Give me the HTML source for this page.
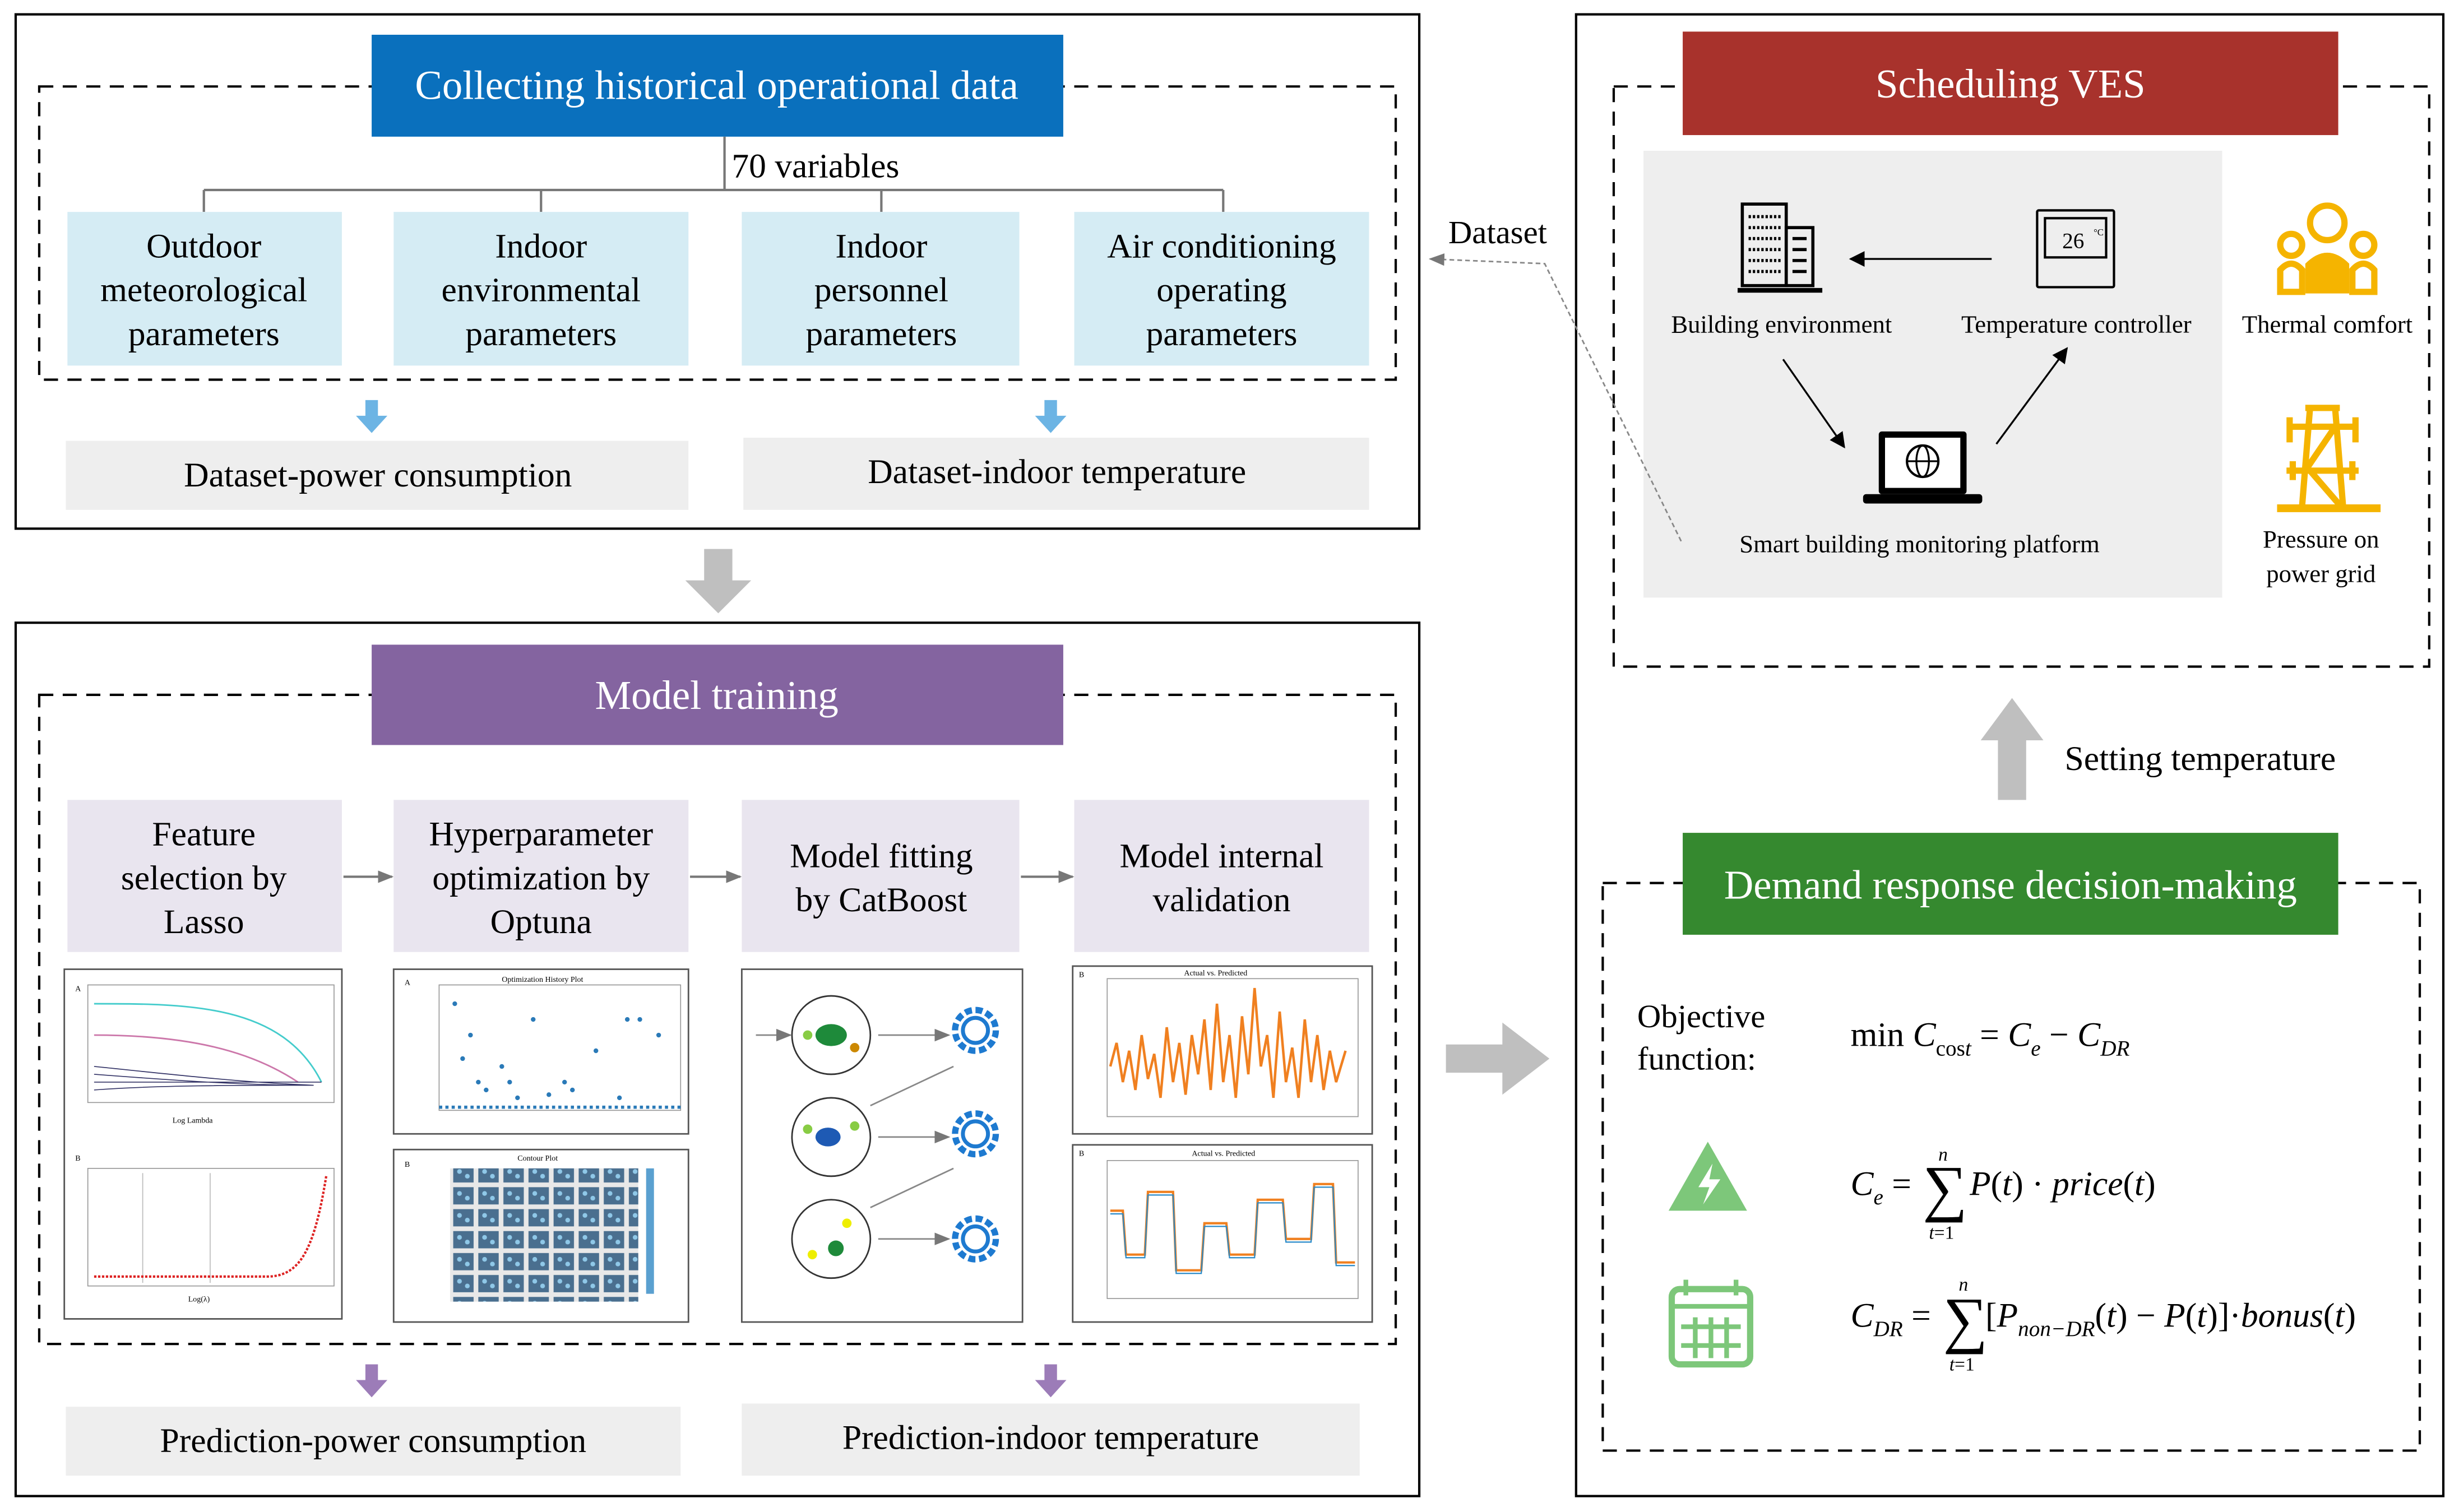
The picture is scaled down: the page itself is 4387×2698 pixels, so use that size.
<!DOCTYPE html>
<html><head><meta charset="utf-8"><style>
html,body{margin:0;padding:0;background:#fff}
svg{display:block}
text{font-family:"Liberation Serif",serif;fill:#000}
</style></head><body>
<svg width="4387" height="2698" viewBox="0 0 1568 964" xmlns="http://www.w3.org/2000/svg">
<defs>
<marker id="ah" markerWidth="10" markerHeight="10" refX="9" refY="5" orient="auto" markerUnits="userSpaceOnUse"><path d="M0,0 L10,5 L0,10 z" fill="#000"/></marker>
<marker id="ag" markerWidth="10" markerHeight="10" refX="9" refY="5" orient="auto" markerUnits="userSpaceOnUse"><path d="M0,1 L10,5 L0,9 z" fill="#777"/></marker>
<pattern id="cp" width="16" height="14" patternUnits="userSpaceOnUse"><rect width="16" height="14" fill="#e8e8e8"/><rect x="1" y="1" width="13" height="11" fill="#4a6f8f"/><circle cx="5" cy="5" r="1.5" fill="#8fc8e8"/><circle cx="10" cy="8" r="1.5" fill="#8fc8e8"/></pattern>
</defs>
<rect width="1568" height="964" fill="#fff"/>

<rect x="10" y="9" width="895" height="328" fill="none" stroke="#000" stroke-width="1.5"/>
<rect x="25" y="55" width="865" height="187" fill="none" stroke="#000" stroke-width="1.5" stroke-dasharray="9,6"/>
<rect x="237" y="22" width="441" height="65" fill="#0a70bd"/>
<text x="457" y="63" font-size="26" text-anchor="middle" style="fill:#fff">Collecting historical operational data</text>
<rect x="455" y="89" width="130" height="28" fill="#fff"/>
<text x="520" y="113" font-size="22" text-anchor="middle">70 variables</text>
<g stroke="#777" stroke-width="1.5" fill="none">
<path d="M462 87 V121 M130 121 H780 M130 121 V135 M345 121 V135 M562 121 V135 M780 121 V135"/>
</g>
<g fill="#d5ecf4">
<rect x="43" y="135" width="175" height="98"/><rect x="251" y="135" width="188" height="98"/>
<rect x="473" y="135" width="177" height="98"/><rect x="685" y="135" width="188" height="98"/>
</g>
<g font-size="22" text-anchor="middle">
<text x="130" y="164">Outdoor</text><text x="130" y="192">meteorological</text><text x="130" y="220">parameters</text>
<text x="345" y="164">Indoor</text><text x="345" y="192">environmental</text><text x="345" y="220">parameters</text>
<text x="562" y="164">Indoor</text><text x="562" y="192">personnel</text><text x="562" y="220">parameters</text>
<text x="779" y="164">Air conditioning</text><text x="779" y="192">operating</text><text x="779" y="220">parameters</text>
</g>
<g fill="#6cb4e4">
<path d="M233 255 h8 v10 h6 l-10 11 l-10 -11 h6z"/>
<path d="M666 255 h8 v10 h6 l-10 11 l-10 -11 h6z"/>
</g>
<rect x="42" y="281" width="397" height="44" fill="#eeeeee"/>
<rect x="474" y="279" width="399" height="46" fill="#eeeeee"/>
<text x="241" y="310" font-size="22" text-anchor="middle">Dataset-power consumption</text>
<text x="674" y="308" font-size="22" text-anchor="middle">Dataset-indoor temperature</text>

<path d="M449 350 h18 v20 h12 l-21 21 l-21 -21 h12z" fill="#bfbfbf"/>

<rect x="10" y="397" width="895" height="557" fill="none" stroke="#000" stroke-width="1.5"/>
<rect x="25" y="443" width="865" height="414" fill="none" stroke="#000" stroke-width="1.5" stroke-dasharray="9,6"/>
<rect x="237" y="411" width="441" height="64" fill="#8464a0"/>
<text x="457" y="452" font-size="26" text-anchor="middle" style="fill:#fff">Model training</text>
<g fill="#e9e5ef">
<rect x="43" y="510" width="175" height="97"/><rect x="251" y="510" width="188" height="97"/>
<rect x="473" y="510" width="177" height="97"/><rect x="685" y="510" width="188" height="97"/>
</g>
<g font-size="22" text-anchor="middle">
<text x="130" y="539">Feature</text><text x="130" y="567">selection by</text><text x="130" y="595">Lasso</text>
<text x="345" y="539">Hyperparameter</text><text x="345" y="567">optimization by</text><text x="345" y="595">Optuna</text>
<text x="562" y="553">Model fitting</text><text x="562" y="581">by CatBoost</text>
<text x="779" y="553">Model internal</text><text x="779" y="581">validation</text>
</g>
<g stroke="#777" stroke-width="1.5">
<line x1="219" y1="559" x2="250" y2="559" marker-end="url(#ag)"/>
<line x1="440" y1="559" x2="472" y2="559" marker-end="url(#ag)"/>
<line x1="651" y1="559" x2="684" y2="559" marker-end="url(#ag)"/>
</g>
<g fill="#fff" stroke="#555" stroke-width="1">
<rect x="41" y="618" width="177" height="223"/>
<rect x="251" y="618" width="188" height="105"/>
<rect x="251" y="733" width="188" height="110"/>
<rect x="473" y="618" width="179" height="225"/>
<rect x="684" y="616" width="191" height="107"/>
<rect x="684" y="730" width="191" height="113"/>
</g>
<g stroke="#999" stroke-width="0.6" fill="none">
<rect x="56" y="628" width="157" height="75"/><rect x="56" y="745" width="157" height="75"/>
<rect x="280" y="628" width="154" height="80"/>
<rect x="706" y="624" width="160" height="88"/><rect x="706" y="740" width="160" height="88"/>
</g>
<g font-size="5" font-family="Liberation Sans"><text x="48" y="632">A</text><text x="48" y="740">B</text><text x="110" y="716">Log Lambda</text><text x="120" y="830">Log(λ)</text><text x="258" y="628">A</text><text x="320" y="626">Optimization History Plot</text><text x="258" y="744">B</text><text x="330" y="740">Contour Plot</text><text x="688" y="623">B</text><text x="755" y="622">Actual vs. Predicted</text><text x="688" y="737">B</text><text x="760" y="737">Actual vs. Predicted</text></g>
<path d="M60 640 C120 640 180 640 205 690" stroke="#4cc" fill="none"/>
<path d="M60 660 C120 660 160 670 190 690" stroke="#c7a" fill="none"/>
<g stroke="#336" stroke-width="0.6" fill="none"><path d="M60 690 H205 M60 685 C100 688 150 692 200 692 M60 695 C100 692 150 692 200 692 M60 680 C100 684 150 690 200 692"/></g>
<line x1="91" y1="748" x2="91" y2="818" stroke="#bbb" stroke-width="0.6"/><line x1="134" y1="748" x2="134" y2="818" stroke="#bbb" stroke-width="0.6"/>
<path d="M60 814 H170 C190 814 200 800 208 750" stroke="#d22" stroke-width="1.5" fill="none" stroke-dasharray="1.5,1"/>
<g fill="#2a7ab8">
<circle cx="290" cy="640" r="1.5"/><circle cx="300" cy="660" r="1.5"/><circle cx="320" cy="680" r="1.5"/><circle cx="340" cy="650" r="1.5"/><circle cx="360" cy="690" r="1.5"/><circle cx="380" cy="670" r="1.5"/><circle cx="400" cy="650" r="1.5"/><circle cx="420" cy="660" r="1.5"/><circle cx="310" cy="695" r="1.5"/><circle cx="330" cy="700" r="1.5"/><circle cx="295" cy="675" r="1.5"/><circle cx="305" cy="690" r="1.5"/><circle cx="350" cy="698" r="1.5"/><circle cx="395" cy="700" r="1.5"/><circle cx="408" cy="650" r="1.5"/><circle cx="325" cy="690" r="1.5"/><circle cx="365" cy="695" r="1.5"/>
</g>
<line x1="280" y1="706" x2="434" y2="706" stroke="#2a7ab8" stroke-width="2" stroke-dasharray="2,2"/>
<rect x="287" y="745" width="120" height="85" fill="url(#cp)"/>
<rect x="412" y="745" width="5" height="80" fill="#5aa0d0"/>
<g fill="#fff" stroke="#333">
<circle cx="530" cy="660" r="25"/><circle cx="530" cy="725" r="25"/><circle cx="530" cy="790" r="25"/>
</g>
<ellipse cx="530" cy="660" rx="10" ry="7" fill="#1e8a3a"/><circle cx="515" cy="660" r="3" fill="#8c4"/><circle cx="545" cy="668" r="3" fill="#c80"/>
<ellipse cx="528" cy="725" rx="8" ry="6" fill="#1e5ab4"/><circle cx="515" cy="720" r="3" fill="#8c4"/><circle cx="545" cy="718" r="3" fill="#8c4"/>
<circle cx="533" cy="796" r="5" fill="#1e8a3a"/><circle cx="518" cy="800" r="3" fill="#ee0"/><circle cx="540" cy="780" r="3" fill="#ee0"/>
<g fill="none" stroke="#1e7ad0">
<circle cx="622" cy="657" r="13" stroke-width="4" stroke-dasharray="4.5,2.3"/><circle cx="622" cy="657" r="8" stroke-width="2.5"/>
<circle cx="622" cy="723" r="13" stroke-width="4" stroke-dasharray="4.5,2.3"/><circle cx="622" cy="723" r="8" stroke-width="2.5"/>
<circle cx="622" cy="790" r="13" stroke-width="4" stroke-dasharray="4.5,2.3"/><circle cx="622" cy="790" r="8" stroke-width="2.5"/>
</g>
<g stroke="#888" stroke-width="1"><line x1="482" y1="660" x2="504" y2="660" marker-end="url(#ag)"/><line x1="560" y1="660" x2="605" y2="660" marker-end="url(#ag)"/><line x1="560" y1="725" x2="605" y2="725" marker-end="url(#ag)"/><line x1="560" y1="790" x2="605" y2="790" marker-end="url(#ag)"/><line x1="608" y1="680" x2="555" y2="705"/><line x1="608" y1="745" x2="555" y2="770"/></g>
<path d="M708 680 L712 665 L716 690 L720 670 L724 695 L728 660 L732 688 L736 672 L740 700 L744 655 L748 690 L752 665 L756 698 L760 660 L764 685 L768 650 L772 695 L776 640 L780 690 L784 660 L788 700 L792 648 L796 685 L800 630 L804 680 L808 660 L812 700 L816 645 L820 690 L824 668 L828 700 L832 650 L836 690 L840 660 L844 695 L848 670 L852 690 L858 670" stroke="#f08020" stroke-width="1.6" fill="none"/>
<path d="M708 772 L716 772 L718 800 L730 800 L732 760 L748 760 L750 810 L766 810 L768 780 L782 780 L784 800 L800 800 L802 765 L818 765 L820 790 L836 790 L838 755 L850 755 L852 805 L864 805" stroke="#f08020" stroke-width="1.5" fill="none"/>
<path d="M708 774 L716 774 L718 802 L730 802 L732 762 L748 762 L750 812 L766 812 L768 782 L782 782 L784 802 L800 802 L802 767 L818 767 L820 792 L836 792 L838 757 L850 757 L852 807 L864 807" stroke="#2a8ac8" stroke-width="0.8" fill="none"/>

<g fill="#9c7cb8">
<path d="M233 870 h8 v10 h6 l-10 11 l-10 -11 h6z"/>
<path d="M666 870 h8 v10 h6 l-10 11 l-10 -11 h6z"/>
</g>
<rect x="42" y="897" width="392" height="44" fill="#eeeeee"/>
<rect x="473" y="895" width="394" height="46" fill="#eeeeee"/>
<text x="238" y="926" font-size="22" text-anchor="middle">Prediction-power consumption</text>
<text x="670" y="924" font-size="22" text-anchor="middle">Prediction-indoor temperature</text>

<path d="M922 666 h36 v-14 l30 23 l-30 23 v-14 h-36z" fill="#bfbfbf"/>

<rect x="1005" y="9" width="553" height="945" fill="none" stroke="#000" stroke-width="1.5"/>
<rect x="1029" y="55" width="520" height="370" fill="none" stroke="#000" stroke-width="1.5" stroke-dasharray="9,6"/>
<rect x="1048" y="96" width="369" height="285" fill="#eeeeee"/>
<rect x="1073" y="20" width="418" height="66" fill="#a8322c"/>
<text x="1282" y="62" font-size="26" text-anchor="middle" style="fill:#fff">Scheduling VES</text>
<text x="955" y="155" font-size="21" text-anchor="middle">Dataset</text>
<path d="M1072 345 L985 168 L912 165" stroke="#888" stroke-width="1" fill="none" stroke-dasharray="3,2" marker-end="url(#ag)"/>
<g stroke="#000" stroke-width="2" fill="none">
<rect x="1111" y="130" width="28" height="52"/><rect x="1139" y="145" width="17" height="37"/>
<line x1="1108" y1="185" x2="1162" y2="185" stroke-width="3"/>
</g>
<g stroke="#000" stroke-width="2" stroke-dasharray="1.5,1.2"><path d="M1115 138 H1136 M1115 145 H1136 M1115 152 H1136 M1115 159 H1136 M1115 166 H1136 M1115 173 H1136"/></g>
<g stroke="#000" stroke-width="2"><path d="M1143 152 H1152 M1143 159 H1152 M1143 166 H1152 M1143 173 H1152"/></g>
<rect x="1299" y="134" width="49" height="49" fill="none" stroke="#000" stroke-width="1.5" rx="1"/>
<rect x="1304" y="139" width="39" height="25" fill="none" stroke="#000" stroke-width="1.5"/>
<text x="1322" y="158" font-size="14" text-anchor="middle" font-family="Liberation Sans">26</text><text x="1335" y="150" font-size="6">°C</text>
<line x1="1270" y1="165" x2="1180" y2="165" stroke="#000" stroke-width="1.2" marker-end="url(#ah)"/>
<line x1="1137" y1="229" x2="1176" y2="285" stroke="#000" stroke-width="1.2" marker-end="url(#ah)"/>
<line x1="1273" y1="283" x2="1318" y2="222" stroke="#000" stroke-width="1.2" marker-end="url(#ah)"/>
<rect x="1198" y="275" width="56" height="40" fill="#000" rx="2"/>
<rect x="1202" y="279" width="48" height="32" fill="#fff"/>
<rect x="1188" y="315" width="76" height="6" fill="#000" rx="2"/>
<circle cx="1226" cy="294" r="10" fill="none" stroke="#000" stroke-width="1.5"/>
<ellipse cx="1226" cy="294" rx="4" ry="10" fill="none" stroke="#000" stroke-width="1.2"/>
<line x1="1216" y1="294" x2="1236" y2="294" stroke="#000" stroke-width="1.2"/>
<g font-size="16" text-anchor="middle">
<text x="1136" y="212">Building environment</text>
<text x="1324" y="212">Temperature controller</text>
<text x="1484" y="212">Thermal comfort</text>
<text x="1224" y="352">Smart building monitoring platform</text>
<text x="1480" y="349">Pressure on</text><text x="1480" y="371">power grid</text>
</g>
<g fill="none" stroke="#f5b400" stroke-width="4">
<circle cx="1484" cy="142" r="11"/><circle cx="1461" cy="156" r="7"/><circle cx="1507" cy="156" r="7"/>
<path d="M1454 186 V172 Q1461 164 1468 172 V186 z M1500 186 V172 Q1507 164 1514 172 V186 z"/>
</g>
<path d="M1470 187 V168 Q1484 154 1498 168 V187 z" fill="#f5b400"/>
<g stroke="#f5b400" stroke-width="4" fill="none">
<path d="M1470 260 H1492 M1458 272 H1504 M1460 266 V282 M1502 266 V282 M1458 300 H1504 M1462 294 V306 M1500 294 V306 M1473 260 L1468 322 M1489 260 L1494 322 M1489 272 L1470 300 M1473 300 L1492 322"/>
<path d="M1452 324 H1518" stroke-width="5"/>
</g>

<path d="M1274 510 h18 v-38 h11 l-20 -27 l-20 27 h11z" fill="#bfbfbf"/>
<text x="1403" y="491" font-size="22" text-anchor="middle">Setting temperature</text>

<rect x="1022" y="563" width="521" height="362" fill="none" stroke="#000" stroke-width="1.5" stroke-dasharray="9,6"/>
<rect x="1073" y="531" width="418" height="65" fill="#35892f"/>
<text x="1282" y="573" font-size="26" text-anchor="middle" style="fill:#fff">Demand response decision-making</text>

<text x="1044" y="655" font-size="21">Objective</text>
<text x="1044" y="682" font-size="21">function:</text>
<text x="1180" y="667" font-size="22">min <tspan font-style="italic">C</tspan><tspan font-size="14" dy="6">cos<tspan font-style="italic">t</tspan></tspan><tspan dy="-6"> = </tspan><tspan font-style="italic">C</tspan><tspan font-size="14" dy="6" font-style="italic">e</tspan><tspan dy="-6"> − </tspan><tspan font-style="italic">C</tspan><tspan font-size="14" dy="6" font-style="italic">DR</tspan></text>

<text x="1180" y="762" font-size="22" font-style="italic">C<tspan font-size="14" dy="6">e</tspan><tspan dy="-6" font-style="normal"> = </tspan></text>
<text x="1226" y="771" font-size="40">∑</text>
<text x="1236" y="740" font-size="12" font-style="italic">n</text>
<text x="1230" y="790" font-size="12" font-style="italic">t<tspan font-style="normal">=1</tspan></text>
<text x="1256" y="762" font-size="22" font-style="italic">P<tspan font-style="normal">(</tspan>t<tspan font-style="normal">) · </tspan>price<tspan font-style="normal">(</tspan>t<tspan font-style="normal">)</tspan></text>

<text x="1180" y="846" font-size="22" font-style="italic">C<tspan font-size="14" dy="6">DR</tspan><tspan dy="-6" font-style="normal"> = </tspan></text>
<text x="1239" y="855" font-size="40">∑</text>
<text x="1249" y="823" font-size="12" font-style="italic">n</text>
<text x="1243" y="874" font-size="12" font-style="italic">t<tspan font-style="normal">=1</tspan></text>
<text x="1266" y="846" font-size="22" font-style="italic"><tspan font-style="normal">[</tspan>P<tspan font-size="14" dy="6">non−DR</tspan><tspan dy="-6" font-style="normal">(</tspan>t<tspan font-style="normal">) − </tspan>P<tspan font-style="normal">(</tspan>t<tspan font-style="normal">)]·</tspan>bonus<tspan font-style="normal">(</tspan>t<tspan font-style="normal">)</tspan></text>

<path d="M1089 728 L1114 772 L1064 772 z" fill="#7dc77a"/>
<path d="M1092 742 L1083 757 L1090 757 L1086 768 L1097 752 L1090 752 z" fill="#fff"/>
<g fill="none" stroke="#7dc77a" stroke-width="4">
<rect x="1066" y="822" width="50" height="48" rx="5"/>
<path d="M1066 833 H1116 M1075 816 V826 M1107 816 V826 M1072 846 H1110 M1072 858 H1110 M1081 840 V866 M1091 840 V866 M1101 840 V866" stroke-width="3"/>
</g>
</svg>
</body></html>
